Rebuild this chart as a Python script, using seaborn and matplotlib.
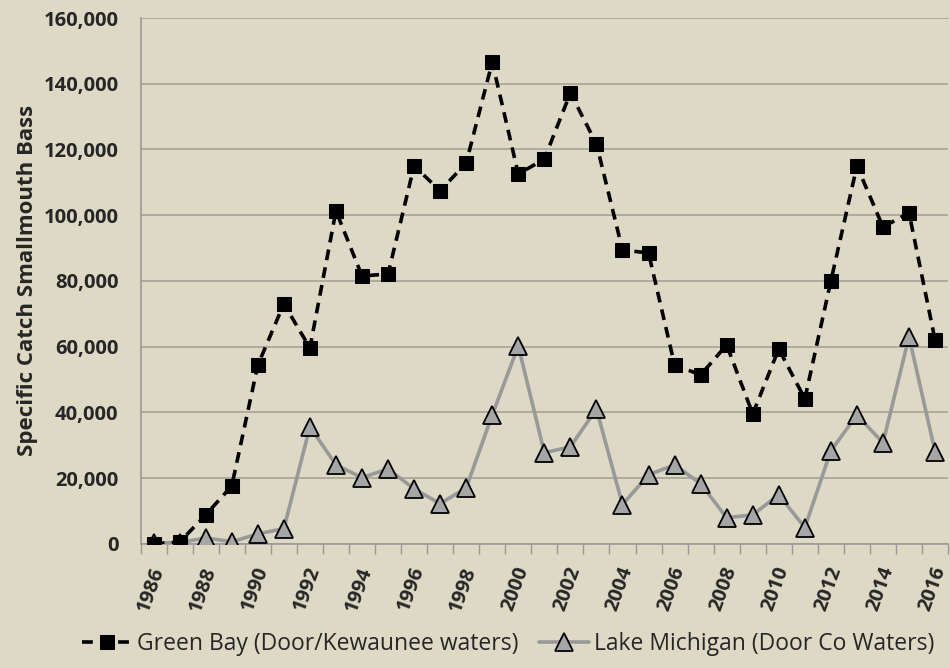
import matplotlib
matplotlib.use("Agg")
import matplotlib.pyplot as plt
import matplotlib.transforms as mtransforms
import seaborn as sns
import pandas as pd
import numpy as np
from matplotlib.ticker import FixedLocator

years = list(range(1986, 2017))
green_bay = [0, 500, 8800, 17600, 54400, 73000, 59600, 101300, 81500, 82100,
             115000, 107400, 115900, 146600, 112500, 117100, 137200, 121700,
             89400, 88500, 54400, 51400, 60500, 39500, 59300, 44100, 80000,
             115000, 96400, 100700, 62000]
lake_michigan = [300, 300, 1800, 600, 3000, 4600, 35600, 24000, 20100, 22800,
                 16700, 12200, 17000, 39200, 60200, 27700, 29500, 41000, 11900,
                 21000, 24000, 18300, 7900, 8800, 14900, 4900, 28300, 39200,
                 30700, 63000, 28000]
y_ticks = [0, 20000, 40000, 60000, 80000, 100000, 120000, 140000, 160000]
label_gb = "Green Bay (Door/Kewaunee waters)"
label_lm = "Lake Michigan (Door Co Waters)"
y_label = "Specific Catch Smallmouth Bass"

bg = "#DDD9C4"
sns.set_theme(style="white")
plt.rcParams['font.family'] = ['Open Sans', 'DejaVu Sans']

fig = plt.figure(figsize=(9.5, 6.68), dpi=100, facecolor=bg)
ax = fig.add_axes([0.148, 0.186, 0.850, 0.787])
ax.set_facecolor(bg)

df = pd.DataFrame({"year": years, "gb": green_bay, "lm": lake_michigan})

sns.lineplot(data=df, x="year", y="lm", ax=ax, color="#999999", lw=2.6,
             marker="^", markersize=13, markerfacecolor="#A6A6A6",
             markeredgecolor="black", markeredgewidth=1.3, label=label_lm, zorder=3)
sns.lineplot(data=df, x="year", y="gb", ax=ax, color="black", lw=2.6,
             linestyle=(0, (3, 2)), marker="s", markersize=10.5,
             markerfacecolor="black", markeredgecolor="black", label=label_gb, zorder=4)

ax.set_xlim(1985.5, 2016.5)
ax.set_ylim(0, 160000)
ax.set_yticks(y_ticks)
ax.set_yticklabels([f"{v:,}" for v in y_ticks], fontweight="bold", fontsize=14.5)
ax.yaxis.grid(True, color="#A8A496", lw=1.2)
ax.set_axisbelow(True)

even_years = [y for y in years if y % 2 == 0]
ax.set_xticks(even_years)
ax.set_xticklabels([str(y) for y in even_years], rotation=70,
                   ha="right", va="center", rotation_mode="anchor",
                   fontweight="bold", fontsize=14.5)
ax.xaxis.set_minor_locator(FixedLocator(np.arange(1985.5, 2017, 1)))
ax.tick_params(axis="x", which="major", length=0, pad=17)
ax.tick_params(axis="x", which="minor", length=7, width=1, color="#999999",
               direction="out", bottom=True)
ax.tick_params(axis="y", length=0, pad=16)
offset = mtransforms.ScaledTranslation(5 / 100, 0, fig.dpi_scale_trans)
for lbl in ax.get_xticklabels():
    lbl.set_transform(lbl.get_transform() + offset)

for s in ["top", "right"]:
    ax.spines[s].set_visible(False)
for s in ["left", "bottom"]:
    ax.spines[s].set_color("#999999")
    ax.spines[s].set_linewidth(1.2)

ax.set_xlabel("")
ax.set_ylabel(y_label, fontsize=16, fontweight="bold", labelpad=4)

handles, labels = ax.get_legend_handles_labels()
order = [labels.index(label_gb), labels.index(label_lm)]
ax.legend([handles[i] for i in order], [labels[i] for i in order],
          loc="upper center", bbox_to_anchor=(0.455, -0.15), ncol=2, frameon=False,
          fontsize=16.5, handlelength=2.2, columnspacing=0.9, handletextpad=0.2,
          borderaxespad=0)

fig.savefig("out.png", dpi=100, facecolor=bg)
